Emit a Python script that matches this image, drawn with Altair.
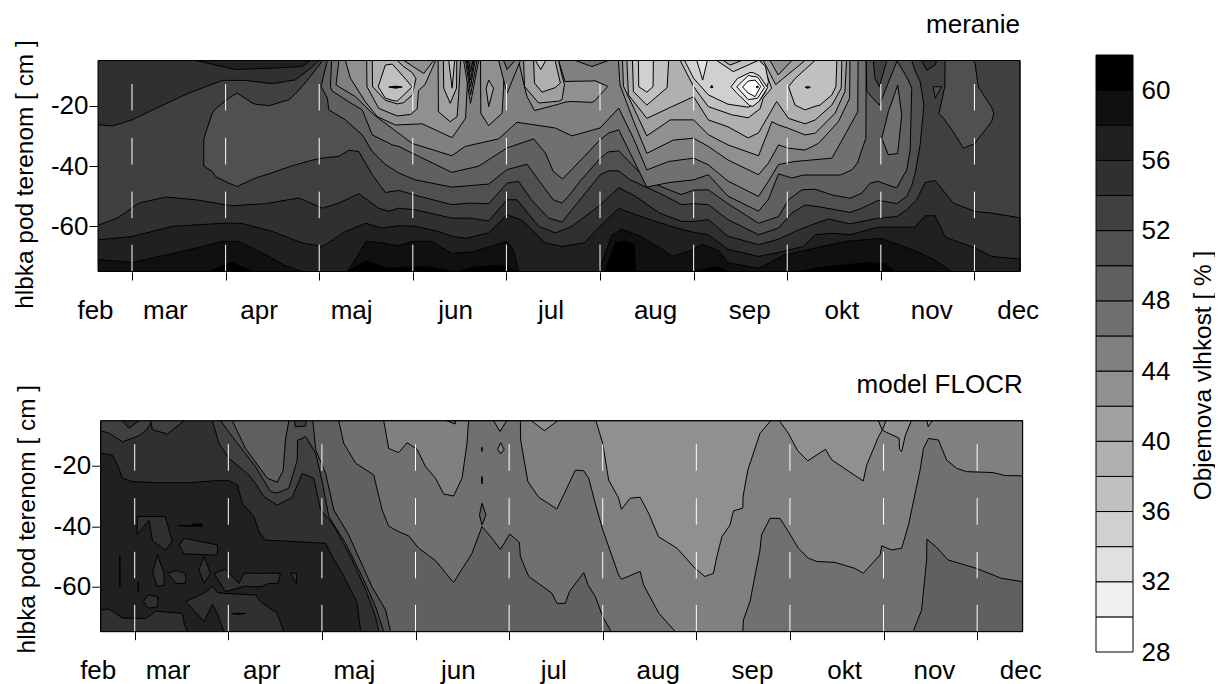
import altair as alt
import pandas as pd

FONT = "Liberation Sans"
X_MIN, X_MAX = -10.9, 284.6
Y_TOP, Y_BOT = -5, -75
TICK_DAYS = [0, 30, 60, 90, 120, 150, 180, 210, 240, 270]
Y_TICKS = [-60, -40, -20]
DASH_SEGMENTS = [(-75, -66.1), (-57.3, -48.5), (-39.5, -30.7), (-21.6, -12.8)]
MONTHS = ["feb", "mar", "apr", "maj", "jun", "jul", "aug", "sep", "okt", "nov", "dec"]
MONTH_DAYS = [-11.7, 10.7, 40.7, 70.4, 103.7, 134.3, 167.8, 198, 227.5, 256.3, 284]
BAR_LEVELS = list(range(28, 62, 2))
BAR_GREYS = [255, 240, 224, 208, 192, 176, 160, 144, 128, 112, 96, 80, 64, 48, 32, 16, 0]
BAR_LABELS = list(range(28, 61, 4))


def grey(level):
    v = BAR_GREYS[BAR_LEVELS.index(level)]
    return f"#{v:02x}{v:02x}{v:02x}"


# ---- measured panel: (day, depth) contour readings ----
M_54_TOPLEFT = [(-11, -26.3), (-6.3, -26.7), (0, -24.7), (5.4, -22), (18.2, -15.8), (29, -11.6), (36.4, -11.6), (45, -12.7), (52.4, -11.4), (56.7, -8), (60, -5)]
M_56_TOPLEFT = [(20.4, -5), (33.2, -8), (46, -7.5), (54.5, -7), (57.2, -5)]
M_C54 = [(-11, -59.7), (-4.7, -57.3), (2.2, -52.3), (10.8, -50.3), (20.4, -51.2), (32, -53.2), (42.8, -52.5), (53.5, -50.6), (61, -54), (66.3, -52.3), (72.7, -49.2), (79, -54), (82.3, -55), (85.5, -54), (90.8, -54.5), (102.5, -57.3), (108.4, -57.3), (114.3, -58.2), (120.2, -51.2), (123.4, -51.2), (130.3, -60), (135.7, -62.2), (141, -60), (150, -53), (156, -47.2), (161.3, -50), (169, -55.6), (176.2, -58.4), (180, -58.4), (184.7, -57.8), (191, -63.3), (200.8, -66.1), (207.2, -64.3), (212.5, -61.7), (217.9, -59.5), (223.2, -57.6), (230.1, -59.2), (239.2, -57.3), (245.1, -56.8), (248.3, -54.5), (251.5, -51.2), (254.2, -45.5), (257.4, -44.8), (263.2, -52.3), (270.2, -55.1), (275.5, -55.6), (284.6, -57.2)]
M_C56 = [(-11, -64.5), (0, -63.4), (13, -60), (29, -59), (35, -59), (45, -61.7), (54.5, -65.5), (61, -66.7), (68.4, -61.7), (75, -59), (80, -60.6), (85.5, -59.8), (90.8, -60), (98, -61.7), (102.5, -63.3), (107, -64), (114.3, -62.2), (120.2, -56.2), (125, -58), (128, -61), (132.5, -65.5), (137.8, -66.7), (145, -65.5), (150, -60), (156, -54), (160.2, -55.7), (166.6, -58), (176, -61), (180, -62), (184.7, -62.8), (191, -67.6), (200.8, -70), (207.2, -68.7), (215.2, -66.7), (219, -62.8), (224.3, -62.3), (230.1, -62.8), (239.2, -60.3), (251, -60.3), (254.2, -56.5), (257.4, -56.5), (260.6, -63.6), (270.2, -67.2), (275.5, -70), (284.6, -70.9)]
M_C58_A = [(-11, -71), (0, -72), (13, -69), (21.5, -67), (29, -65), (34, -65), (42, -69), (49, -73), (54.5, -75)]
M_C58_B = [(69, -75), (71.6, -71), (75, -65), (80, -65.5), (85.5, -66.5), (89.8, -65), (96, -65), (102.5, -69), (109, -68.5), (114.2, -67), (120.2, -65), (122.3, -68), (123.9, -75)]
M_C58_C = [(149.5, -75), (153.8, -63), (157, -61), (162.3, -63), (169.8, -67.5), (173, -70), (179.4, -68), (182.6, -66), (187.9, -68), (191, -72), (200.8, -74), (209, -69.5), (220, -67), (229, -65), (240, -64), (250.8, -68), (257, -71), (262.6, -75)]
M_C60_PATCHES = [
    [(24.5, -75), (32, -72), (38.5, -75)],
    [(69, -75), (75, -71.5), (82, -74), (88, -73.5), (95, -73.5), (103, -75)],
    [(104.7, -75), (110, -73.5), (116.5, -73), (120.5, -73.5), (122.8, -75)],
    [(151.7, -75), (153, -70.5), (155, -65.5), (158, -65), (161, -66), (161.3, -75)],
    [(180, -75), (184.7, -74), (188, -73.5), (191, -75)],
    [(213.5, -75), (221.5, -73.5), (227, -73), (236, -72), (241.5, -72.5), (244.5, -75)],
]
M_P52 = [(23, -31, -40), (25.7, -22.5, -41.8), (26.8, -21, -43.5), (31, -17.5, -45.7), (33.7, -15.8, -46.8), (38.5, -19.1, -44.5), (39.6, -19.5, -44), (43.9, -20, -42.6), (50.3, -18, -40.3), (52.4, -16, -39.6), (54.5, -13.6, -39), (57.2, -10.3, -38.2), (60, -6.5, -37.6), (61, -5, -37.4), (66.3, -5, -36.8), (69.5, -5, -34.8), (72.7, -5, -35.2), (77, -5, -42.9), (81.2, -5, -48.8), (85.5, -5, -48.1), (91.9, -5, -50), (102.5, -5, -52.8), (108.4, -5, -52.3), (114.3, -5, -52.5), (120.2, -5, -45.7), (123.9, -5, -45.1), (128, -5, -51.2), (133.5, -5, -57.3), (137.8, -5, -58.6), (141, -5, -54.5), (150, -5, -43), (152.7, -5, -41.6), (156, -5, -41.6), (159.7, -5, -44.6), (169, -5, -49), (176.2, -5, -52.8), (180, -5, -52.5), (184.7, -5, -52.8), (191, -5, -57.8), (200.8, -5, -62.8), (207.2, -5, -60.6), (211.5, -5, -55.6), (215.7, -5, -52.9), (221.1, -5, -53.7), (230.1, -5, -55.4), (233.9, -5, -54), (239.2, -5, -51.4), (245.1, -5, -52.5), (248.3, -5, -50.1), (249.9, -5, -46.5), (251, -8.5, -42.4), (252.6, -12, -33), (253.8, -19.8, -19.8)]
M_P50 = [(60.6, -13.6, -13.6), (62.6, -5, -17.5), (63.1, -5, -21.4), (68.4, -5, -24.7), (73.8, -5, -29.7), (77, -5, -35.2), (81.2, -5, -39.5), (85.5, -5, -42.3), (90.8, -5, -44.6), (102.5, -5, -47), (114.3, -5, -46), (120.2, -5, -41.2), (126.6, -5, -39.4), (131.4, -5, -46.2), (135, -5, -51.2), (137.8, -5, -52.3), (139.9, -5, -50), (144, -5, -44.6), (150, -5, -37.5), (152.7, -5, -35.3), (156, -5, -35), (165, -5, -44.6), (170, -5, -47), (176, -5, -49.5), (180, -5, -48), (184.7, -5, -47.9), (191, -5, -52.5), (200.8, -5, -59), (207.2, -5, -56.8), (210.4, -5, -51.2), (214.7, -5, -47.9), (219, -5, -47.7), (224.3, -5, -49.6), (230.1, -5, -50.7), (233.9, -5, -49), (236.5, -5, -45.7), (239.2, -5, -45.1), (243.5, -5, -46.8), (245.1, -5, -47.2), (248.3, -10.5, -41.3), (249.4, -13, -34.7), (249.9, -14.2, -14.2)]
M_P48 = [(63.6, -13.6, -13.6), (64, -5, -15), (69.5, -5, -18.7), (73.8, -5, -21.4), (77, -5, -29.7), (83.4, -5, -33), (85.5, -5, -33.5), (91.9, -5, -36.8), (102.5, -5, -42.1), (111, -5, -40.1), (120.2, -5, -34), (128.7, -5, -31), (132.5, -5, -35.7), (135, -5, -41.8), (138, -5, -44.3), (145, -5, -36.8), (150, -5, -31.3), (152.7, -5, -29.1), (156, -5, -28), (165, -5, -47), (172, -5, -45.5), (180, -5, -44.6), (184.7, -5, -42.9), (191, -5, -50), (200.8, -5, -55), (204, -5, -51), (207.2, -5, -42.6), (211.5, -5, -44), (215.2, -5, -43), (227, -5, -43), (230.7, -5, -41.3), (232.5, -5, -39), (233.9, -5, -34.7), (235.2, -5, -30.8), (235.3, -5, -5)]
M_P46 = [(65.4, -13, -13), (66.3, -5, -13.7), (71.6, -5, -17), (77.5, -5, -23), (89.8, -5, -32.5), (102.5, -5, -36.6), (106.8, -5, -33.5), (117.5, -5, -31), (123.4, -5, -25.5), (135.7, -5, -27.4), (141, -5, -30), (150, -5, -27.4), (156, -5, -20.8), (160.7, -5, -30.8), (165, -5, -41.3), (172, -5, -38.5), (180, -5, -37.4), (184.7, -5, -39.6), (191, -5, -45), (200.8, -5, -50.1), (204, -5, -45), (207.2, -5, -39.5), (212.5, -5, -38.5), (224.3, -5, -37.4), (228.5, -5, -29.7), (232.6, -5, -22), (232.7, -5, -5)]
M_P44_A = [(68.4, -5), (70, -10.9), (74.8, -18.7), (78.6, -23.6), (84.4, -26.4), (93, -26), (102.6, -30.6), (106.9, -24.2), (107.4, -14.2), (107.9, -5)]
M_P44_LOBE2 = [(111.7, -5), (111.8, -22.5), (114.3, -26.6), (118.6, -22.5), (119.1, -14.2), (119.2, -5)]
M_P44_B = [(123.9, -5, -5), (125.5, -5, -12.5), (126.6, -5, -17), (129, -5, -21.6), (136.7, -5, -19.5), (138.8, -12, -18.8), (141, -11.9, -18.6), (147.4, -11.8, -18.9), (148.4, -11.7, -18.3), (152.5, -13.6, -13.6)]
M_P44_C = [(155.9, -5), (156.4, -13.1), (160.7, -25), (165, -35.8), (173.5, -31.4), (180, -30.8), (184.7, -33.5), (191, -38), (200.8, -42.9), (204, -39), (207.2, -33), (210.4, -34.1), (215.7, -34.7), (220, -32.5), (226.4, -25.3), (230, -17.5), (230.1, -5)]
M_P42_A = [(75.2, -5), (75.3, -13.7), (79.1, -20.9), (85, -23.4), (89.3, -22.9), (91.4, -21), (91.8, -15), (93.9, -13), (97.3, -5)]
M_P42_LOBE1 = [(98.1, -5), (98.2, -22), (102, -25.3), (104.2, -23.6), (104.7, -16.4), (105.3, -5)]
M_P42_B = [(125.5, -5, -5), (125.8, -5, -13.6), (130.3, -5, -19.1), (136.7, -5, -18.5), (137.8, -10, -18), (138.6, -13, -13)]
M_P42_C = [(157.2, -5), (157.5, -13.5), (165, -30), (172.5, -24.7), (180, -24.7), (184.7, -29.6), (191, -33), (200.8, -36.6), (205.1, -25.3), (207.2, -26.4), (210.4, -27.5), (215.7, -29.7), (219, -29.1), (225.3, -22.5), (228.5, -15.3), (229, -5)]
M_P40_A = [(77, -5, -5), (77.1, -5, -13.7), (81.2, -5, -18.2), (85, -5, -19.4), (87, -7, -19), (89.8, -9, -16.5), (91, -11, -11)]
M_P40_LOBE1 = [(99.8, -5), (99.9, -14.2), (102, -19.2), (104, -14.2), (104.1, -5)]
M_P40_B = [(128.7, -5, -5), (129, -5, -12.5), (131.4, -5, -15.5), (135.6, -5, -14), (137.3, -12.5, -12.5)]
M_P40_C = [(158.6, -5), (159.1, -16.4), (165, -24.2), (172, -20.8), (180, -17), (184.7, -24.7), (191, -27), (197.5, -30.7), (200.8, -29), (206.6, -18.6), (210.4, -24.2), (215.7, -26), (219, -24.7), (224.3, -19.8), (227.3, -14.2), (227.5, -5)]
M_WEDGE_A = [(87.1, -5), (93.5, -9.3), (96.7, -5)]
M_PALE_A = [(78.9, -13.7, -13.7), (81.2, -6.5, -17.5), (83.4, -6.2, -18.2), (85, -8, -18.5), (89.8, -13.7, -13.7)]
M_SPIKE_B = [(129.3, -5), (131, -8), (132.6, -5)]
M_SPIKE_LOBE1 = [(101.5, -5), (102.6, -14.2), (103.4, -5)]
M_LOBE_C1 = [(160.4, -5), (160.7, -15.3), (165, -19.8), (171.5, -14), (172, -5)]
M_P38_MAIN = [(175.7, -5, -5), (180, -5, -13.7), (184.7, -5, -20.3), (192.2, -5, -23), (197.5, -5, -24), (201.3, -5, -21), (202.3, -6.5, -17.5), (205, -14.2, -14.2)]
M_P38_RIGHT = [(210.4, -13.7, -13.7), (212.5, -11, -19.8), (215.7, -8, -21.4), (218.9, -5, -20.2), (220.5, -5, -19.8), (224.3, -5, -16.4), (225.6, -5, -13.7), (225.9, -5, -5)]
M_LOBE_C2 = [(162.3, -5), (162.4, -13.7), (165, -15.5), (167, -13.7), (167.1, -5)]
M_P36_MAIN = [(177.1, -5, -5), (180, -5, -10.9), (184.7, -5, -16.4), (191, -5, -19.5), (197.5, -5, -20.5), (201, -5, -18.5), (203, -7, -15.5), (204, -12, -12)]
M_RING1 = [(192, -13.7, -13.7), (194, -11, -16), (198, -9, -20), (199, -9, -20.2), (201, -10, -18.5), (203.7, -14, -14)]
M_RING2 = [(193.8, -13.7, -13.7), (197.5, -10, -18), (200.5, -10.5, -17.5), (202.7, -14, -14)]
M_RING3 = [(195.7, -13.8, -13.8), (197.5, -11.8, -15.8), (199.7, -11.5, -17), (201.5, -13.6, -13.6)]
M_LIGHT_SPIKE = [(181, -5), (182.9, -11.5), (184.4, -5)]
M_WEDGE_MAIN = [(187.4, -5), (192.7, -8.7), (200.7, -5)]
M_WEDGE_MAIN_IN = [(189.5, -5), (191.7, -6.5), (195.4, -5)]
M_WEDGE_R1 = [(202.3, -5), (206.3, -13), (215.7, -5)]
M_WEDGE_R2 = [(204.5, -5), (207.1, -9.8), (211.5, -5)]
M_FAN = [
    (42, [(106.3, -5), (108.5, -19.2), (111.1, -5)]),
    (44, [(106.9, -5), (108.5, -16.4), (110.6, -5)]),
    (46, [(107.2, -5), (108.5, -13.7), (110, -5)]),
    (48, [(107.5, -5), (108.5, -11.5), (109.6, -5)]),
    (50, [(107.9, -5), (108.5, -8.7), (109.2, -5)]),
]
M_LOBE2_INNER = [(113.5, -14.2, -14.2), (114.3, -11.5, -20.3), (115.9, -14.2, -14.2)]
M_WEDGE_120 = [(117.5, -5), (120.2, -15.9), (124.5, -5)]
M_WEDGE_120_IN = [(119.1, -5), (120.2, -8), (122.7, -5)]
M_WEDGE_147 = [(142.1, -5), (147.4, -7), (152.7, -5)]
M_NOTCH_OUT = [(235.3, -5), (235.5, -15.3), (239.5, -19.8), (245.1, -5.4)]
M_NOTCH_IN = [(237.6, -5), (238.1, -10.9), (239.5, -13.7), (241.9, -5)]
M_ISLAND = [(240.3, -30.8, -30.8), (242.4, -22, -36.3), (245.4, -13.1, -35.8), (246.7, -23, -23)]
M_TOP_DARK = [(253, -5), (254.7, -8.2), (257.4, -6.5), (257.9, -5)]
M_TRIANGLE = [(256.8, -13.7, -13.7), (257.4, -13.7, -17.5), (259.5, -13.7, -13.7)]
M_BLOB_R = [(258.6, -22.5, -22.5), (260.5, -13.7, -24.7), (260.6, -5, -25), (263.2, -5, -28.6), (266.4, -5, -34.1), (269.6, -5, -32.8), (270.2, -6, -32.5), (271.2, -13.7, -31), (275.5, -20.5, -25.3), (276.2, -22.5, -22.5)]
M_DASH_A = [(82.3, -13.8, -13.8), (84.5, -13.5, -14.2), (86.6, -13.8, -13.8)]
M_DASH_R = [(215.7, -13.9, -13.9), (216.5, -13.6, -14.2), (217.4, -13.9, -13.9)]
M_DOT_1 = [(200, -13.8, -13.8), (200.4, -13.5, -14.1), (200.8, -13.8, -13.8)]
M_DOT_2 = [(185.4, -14, -14), (185.8, -13.2, -14), (186.2, -14, -14)]

# ---- model panel: (day, depth) contour readings ----
F_B1 = [(-10.9, -15.8), (-7.2, -16.4), (-5.5, -19.7), (-3.9, -24.1), (-0.7, -25.2), (6.7, -25.6), (17.4, -25.6), (25.9, -24.9), (30.2, -24.9), (32.9, -26.3), (34.5, -32.4), (38.2, -36.8), (39.8, -41.8), (41.9, -44.6), (51.5, -45.1), (61.2, -45.7), (63.3, -50.1), (66.5, -55.6), (71.3, -65.3), (72.4, -75), (284.6, -75)]
F_TL_1 = [(-10.9, -8.3), (-8.2, -9.2), (-3.9, -12), (1.4, -10), (3.8, -8), (5.6, -5)]
F_TL_WEDGE = [(-4, -5), (-1.8, -7.5), (1.4, -5)]
F_TL_2 = [(5.1, -5), (5.7, -8), (10.5, -9.4), (15.8, -5)]
F_PATCHES = [
    [(0.8, -36.8, -42.8), (4.6, -36.8, -38), (5.7, -36.8, -44.8), (9.8, -36.8, -48), (12, -45, -45)],
    [(14.2, -46.2, -46.2), (15.8, -44, -49.2), (26.5, -46.2, -49.6), (26.6, -47, -47)],
    [(5.7, -55.6, -55.6), (7.3, -49.5, -60), (9.4, -55.6, -59.5), (9.5, -57, -57)],
    [(20.6, -54.5, -54.5), (22.2, -50, -59), (24.3, -55.6, -55.6)],
    [(10.5, -55.6, -55.6), (13.3, -54.7, -59), (16.3, -55.6, -59), (16.4, -57, -57)],
    [(2.8, -65, -65), (4.4, -62.8, -67.2), (7.3, -63.4, -66.7), (7.4, -65, -65)],
    [(16.3, -65, -65), (22.2, -62.2, -71.6), (24.9, -60, -66), (26.5, -62, -69), (28.6, -62.3, -75), (38.7, -62.8, -75), (40.3, -65, -75), (45.7, -68.9, -75), (47.8, -75, -75)],
    [(-10.9, -67.8, -75), (-8.2, -67.5, -75), (-3.9, -70.5, -75), (3.5, -70.6, -75), (6.7, -68.2, -75), (15.2, -68.9, -75), (16, -73, -75), (17, -75, -75)],
    [(25.4, -55.6, -55.6), (29.1, -54.3, -61.7), (33.4, -59, -60.5), (35, -55.6, -59.9), (38.7, -55.6, -60.1), (40.8, -55.6, -60), (42.9, -55.6, -59), (46, -55.6, -59), (46.7, -55.6, -55.6)],
    [(50, -55.6, -55.6), (51.8, -55.6, -59), (51.9, -55.6, -55.6)],
]
F_DASHES = [
    [(13.7, -39.8, -39.8), (18, -39.8, -40), (19, -39.3, -40), (21.7, -39.3, -40)],
    [(-4.8, -49.6, -49.6), (-4.75, -49.6, -60), (-4.7, -60, -60)],
    [(1.1, -58.5, -58.5), (1.15, -58.5, -62), (1.2, -62, -62)],
    [(31, -69, -69), (33, -68.9, -69.2), (35.5, -69, -69)],
]
F_L1 = [(24.9, -5), (27, -12.5), (30.2, -17.5), (36.6, -23), (38.7, -25.8), (41.4, -30.2), (45.7, -33), (50.5, -30.4), (53.7, -22.5), (57.4, -24.1), (59.6, -34.6), (63.3, -39), (65.4, -42.9), (69.7, -51.2), (74, -61.1), (77.2, -70), (78.2, -75), (284.6, -75)]
F_L2 = [(27.5, -5), (31.3, -10.3), (38.7, -20.2), (43.5, -28.5), (45.7, -29), (49.4, -27.4), (52.1, -18), (52.2, -11.5), (54.8, -10.3), (58, -15.8), (60, -24.7), (62.2, -36.8), (67.6, -45.7), (72.9, -56.7), (77.2, -66.7), (79.8, -75), (284.6, -75)]
F_L3_LEFT = [(31.3, -5), (35.5, -14.2), (42.5, -24.1), (45.7, -25.4), (47.6, -21.4), (48.3, -11.4), (49.4, -5)]
F_PATCH_TOP = [(51.2, -5), (51.5, -7), (54.7, -6.8), (55, -5)]
F_L3_RIGHT = [(57.1, -5), (58, -14.7), (61.2, -22.5), (63.8, -34.6), (68.6, -42.9), (76, -60), (80.4, -67.8), (82, -75), (284.6, -75)]
F_L4 = [(65.4, -5), (67, -12.5), (70.8, -19.1), (76.6, -23), (79.3, -34.6), (81.4, -40), (84.6, -41.8), (87.8, -43.2), (91, -47.3), (96.4, -51.4), (102.2, -58.7), (108.1, -49), (111.3, -40.1), (114.5, -44), (117.2, -47.7), (120.2, -42.6), (123.3, -45.4), (123.6, -50.1), (126.3, -56.7), (133.7, -62.2), (135.3, -65.6), (138, -65.6), (139.3, -61.7), (143.9, -55.4), (145.3, -59.5), (147.6, -63.3), (150, -70), (152.7, -75), (284.6, -75)]
F_L5_A = [(79.8, -5), (81.4, -14.2), (84.6, -15.6), (87.3, -12.3), (90.5, -14.5), (93.2, -20.2), (96.4, -24.1), (99, -29.3), (102.2, -30), (104.9, -24.1), (106.5, -12.5), (107, -5)]
F_L5_B = [(123.6, -5), (123.7, -11.4), (126, -25.2), (129.5, -30.4), (135.3, -34.3), (139, -26.3), (141.2, -21.4), (143.9, -21.6), (145.5, -24.1), (147.6, -32.4), (150, -41.2), (155.1, -56.2), (156, -57.6), (162, -55), (163.1, -59.5), (168, -68.9), (173.3, -75), (194.9, -75), (195.1, -71.1), (197.2, -65), (200.4, -47.9), (200.9, -42.9), (203.6, -37.4), (206.8, -37.4), (209.5, -41.8), (212.7, -47.3), (215.9, -50.6), (218.6, -51.7), (224.4, -52), (230.8, -54), (233.5, -55.6), (238.9, -49.5), (239.4, -46.5), (242.6, -47.9), (245.8, -47.3), (248, -39.6), (251.7, -21.4), (252.8, -14.2), (254.4, -10.9), (257.6, -11.4), (260.2, -18), (263.4, -20.8), (266.6, -21.9), (275.1, -22.2), (278.9, -23.2), (284.6, -23.3)]
F_L6_A = [(147.8, -5), (150, -12.5), (151.9, -24.7), (155.1, -30.7), (156, -34.4), (158.8, -30.7), (162, -30.4), (164.7, -35.7), (167.9, -43.5), (173.8, -47.3), (179.6, -54), (182.8, -56.7), (185.5, -55.6), (186.6, -50), (188.2, -43.5), (190.8, -39.6), (191.9, -34.9), (194.9, -34), (195, -30), (196.5, -21.4), (200.4, -9.2), (203.6, -5.3)]
F_L6_B = [(206.8, -5, -5.3), (209.5, -5, -9.2), (212.5, -5, -15), (215.7, -5, -18.3), (221.4, -5, -14.5), (223.4, -5, -18), (233.5, -5, -25), (234.6, -5, -19.7), (238.3, -5, -10.5), (239.6, -8.1, -8.1)]
F_L6_C = [(239.6, -8.1, -8.1), (240.8, -5, -8.8), (245, -5, -10.8), (245.1, -5, -14.5), (245.8, -5, -15.3), (247, -5, -9.8), (248.8, -5, -5.3)]
F_TINY_254 = [(253.9, -5), (254.3, -7), (255.6, -5)]
F_TINY_117 = [(115, -5), (117.1, -8.6), (119.2, -5)]
F_DIAMOND = [(116.3, -14.5, -14.5), (117.3, -12.3, -16), (118.4, -14.5, -14.5)]
F_DOT_A = [(111.1, -14.5, -14.5), (111.3, -13.8, -15.2), (111.5, -14.5, -14.5)]
F_DOT_B = [(111.1, -24.7, -24.7), (111.3, -23.5, -26), (111.5, -24.7, -24.7)]
F_LENS = [(110.5, -36.3, -36.3), (111.3, -32.4, -39.6), (112.6, -36.3, -36.3)]
F_TINY_102 = [(100.1, -5), (102.7, -6.1), (102.8, -5)]
F_PATCH_131 = [(127.1, -5), (131.3, -8.3), (135.6, -5)]
F_L4B = [(249.5, -75), (252.2, -67.8), (253.8, -51.2), (253.9, -44.3), (256.8, -46.8), (260.7, -51.2), (269.8, -54), (277.8, -57.3), (284.6, -58.4)]


def up(pts):
    return [(x, Y_TOP, d) for x, d in pts]


def down(pts):
    return [(x, d, Y_BOT) for x, d in pts]


FULL = [(X_MIN, Y_TOP, Y_BOT), (X_MAX, Y_TOP, Y_BOT)]

M_REGIONS = [
    (52, FULL), (54, up(M_54_TOPLEFT)), (56, up(M_56_TOPLEFT)),
    (54, down(M_C54)), (56, down(M_C56)),
    (58, down(M_C58_A)), (58, down(M_C58_B)), (58, down(M_C58_C)),
    *[(60, down(p)) for p in M_C60_PATCHES],
    (50, M_P52), (48, M_P50), (46, M_P48), (44, M_P46),
    (42, up(M_P44_A)), (42, up(M_P44_LOBE2)), (42, M_P44_B), (42, up(M_P44_C)),
    (40, up(M_P42_A)), (40, up(M_P42_LOBE1)), (40, M_P42_B), (40, up(M_P42_C)),
    (38, M_P40_A), (38, up(M_P40_LOBE1)), (38, M_P40_B), (38, up(M_P40_C)),
    (42, up(M_WEDGE_A)), (36, M_PALE_A), (36, up(M_SPIKE_B)), (36, up(M_SPIKE_LOBE1)),
    (36, up(M_LOBE_C1)), (36, M_P38_MAIN), (36, M_P38_RIGHT), (34, up(M_LOBE_C2)),
    (34, M_P36_MAIN), (32, M_RING1), (30, M_RING2), (28, M_RING3),
    (32, up(M_LIGHT_SPIKE)), (36, up(M_WEDGE_MAIN)), (38, up(M_WEDGE_MAIN_IN)),
    (40, up(M_WEDGE_R1)), (42, up(M_WEDGE_R2)),
    *[(lv, up(p)) for lv, p in M_FAN],
    (40, M_LOBE2_INNER), (44, up(M_WEDGE_120)), (46, up(M_WEDGE_120_IN)), (46, up(M_WEDGE_147)),
    (50, up(M_NOTCH_OUT)), (52, up(M_NOTCH_IN)), (46, M_ISLAND), (54, up(M_TOP_DARK)),
    (50, M_TRIANGLE), (50, M_BLOB_R),
    (60, M_DASH_A), (60, M_DASH_R), (60, M_DOT_1), (60, M_DOT_2),
]
F_REGIONS = [
    (56, FULL), (54, up(F_B1)), (52, up(F_TL_1)), (54, up(F_TL_WEDGE)), (52, up(F_TL_2)),
    *[(54, p) for p in F_PATCHES],
    *[(60, p) for p in F_DASHES],
    (52, up(F_L1)), (50, up(F_L2)), (48, up(F_L3_LEFT)), (52, up(F_PATCH_TOP)), (48, up(F_L3_RIGHT)),
    (46, up(F_L4)), (44, up(F_L5_A)), (44, up(F_L5_B)),
    (42, up(F_L6_A)), (42, F_L6_B), (42, F_L6_C), (42, up(F_TINY_254)),
    (44, up(F_TINY_117)), (44, F_DIAMOND), (44, F_DOT_A), (44, F_DOT_B), (48, F_LENS),
    (46, up(F_TINY_102)), (42, up(F_PATCH_131)), (48, down(F_L4B)),
]

Y_TITLE = "hlbka pod terenom [ cm ]"


def panel(regions, title, x_range, y_range, height, axis_offset, title_y):
    x_scale = alt.Scale(domain=[X_MIN, X_MAX], range=x_range, nice=False, zero=False)
    y_scale = alt.Scale(domain=[Y_BOT, Y_TOP], range=y_range, nice=False, zero=False)
    x_axis = alt.Axis(values=TICK_DAYS, labels=False, domain=False, grid=False, tickSize=8,
                      tickColor="#000", tickWidth=1)
    y_axis = alt.Axis(values=Y_TICKS, domain=False, grid=False, tickSize=9, tickColor="#000", tickWidth=1,
                      labelExpr="'-' + abs(datum.value)", labelFont=FONT, labelFontSize=26, labelColor="#000",
                      labelPadding=1, titleFont=FONT, titleFontSize=24.4, titleFontWeight="normal",
                      titleColor="#000", titleBaseline="alphabetic", titleX=-66, titleY=title_y,
                      offset=axis_offset)
    X = alt.X("day:Q", scale=x_scale, title=None, axis=x_axis)
    Y = alt.Y("top:Q", scale=y_scale, title=Y_TITLE, axis=y_axis)
    layers = []
    for level, pts in regions:
        df = pd.DataFrame(pts, columns=["day", "top", "bottom"])
        layers.append(alt.Chart(df).mark_area(orient="vertical", fill=grey(level), stroke="#000",
                                              strokeWidth=1, clip=True, opacity=1,
                                              interpolate="linear").encode(x=X, y=Y, y2="bottom:Q"))
    dash = pd.DataFrame([(t, a, b) for t in TICK_DAYS for a, b in DASH_SEGMENTS], columns=["day", "top", "bottom"])
    layers.append(alt.Chart(dash).mark_rule(color="#fff", strokeWidth=1).encode(x=X, y=Y, y2="bottom:Q"))
    frame = pd.DataFrame({"day": [X_MIN], "x1": [X_MAX], "top": [Y_BOT], "bottom": [Y_TOP]})
    layers.append(alt.Chart(frame).mark_rect(fillOpacity=0, stroke="#000", strokeWidth=1).encode(
        x=X, x2="x1:Q", y=Y, y2="bottom:Q"))
    months = pd.DataFrame({"day": MONTH_DAYS, "m": MONTHS})
    layers.append(alt.Chart(months).mark_text(font=FONT, fontSize=26, color="#000", baseline="middle").encode(
        x=X, y=alt.value(height + 39), text="m:N"))
    ttl = pd.DataFrame({"day": [X_MAX], "t": [title]})
    layers.append(alt.Chart(ttl).mark_text(font=FONT, fontSize=26, color="#000", align="right", baseline="middle").encode(
        x=X, y=alt.value(y_range[1] - 36), text="t:N"))
    return alt.layer(*layers).properties(width=925, height=height)


top = panel(M_REGIONS, "meranie", [0, 922], [216.5, 5.5], 217, 0, 119)
bottom = panel(F_REGIONS, "model FLOCR", [2.7, 924.7], [211, 0], 211, -2.7, 98)

bar_df = pd.DataFrame({"lo": BAR_LEVELS, "hi": [v + 2 for v in BAR_LEVELS],
                       "fill": [grey(v) for v in BAR_LEVELS]})
bar = alt.Chart(bar_df).mark_rect(stroke="#000", strokeWidth=1).encode(
    x=alt.value(0), x2=alt.value(37),
    y=alt.Y("lo:Q", scale=alt.Scale(domain=[28, 62], nice=False, zero=False),
            title="Objemova vlhkost [ % ]",
            axis=alt.Axis(orient="right", values=BAR_LABELS, domain=False, ticks=False, grid=False,
                          labelFont=FONT, labelFontSize=26, labelColor="#000", labelPadding=8,
                          titleFont=FONT, titleFontSize=24.4, titleFontWeight="normal", titleColor="#000",
                          titleAngle=270, titleX=82, titleY=320)),
    y2="hi:Q",
    fill=alt.Fill("fill:N", scale=None),
).properties(width=37, height=597)

left = alt.vconcat(top, bottom, spacing=148.7, bounds="flush")
chart = alt.hconcat(left, bar, spacing=53).properties(
    padding={"left": 3, "top": 3, "right": 0, "bottom": 0}
).configure_view(stroke=None)

chart.save("out.html", embed_options={"renderer": "svg", "actions": False})
